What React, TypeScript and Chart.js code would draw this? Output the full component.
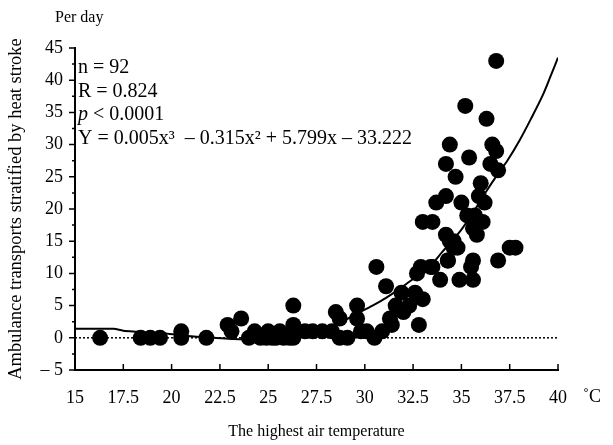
import React, { useEffect, useRef } from "react";
import { Chart, registerables } from "chart.js";

Chart.register(...registerables);

// Observed points (highest air temperature °C, ambulance transports per day)
const tempX: number[] = [
  16.3, 18.4, 18.9, 19.4, 20.5, 20.5, 21.8, 22.9, 23.1, 23.6,
  24.3, 24.6, 25.0, 25.2, 25.6, 25.8, 26.1, 26.3, 26.3, 26.3,
  26.3, 26.9, 27.3, 27.8, 28.5, 28.7, 28.7, 29.1, 29.6, 29.6,
  29.8, 30.1, 30.5, 30.6, 30.9, 31.1, 31.3, 31.6, 31.9, 32.0,
  32.6, 32.8, 33.0, 32.7, 32.9, 33.4, 33.5, 33.9, 34.3, 34.4,
  34.4, 35.4, 36.6, 36.8, 34.2, 36.5, 36.9, 34.7, 36.0, 35.9,
  36.2, 34.2, 33.7, 35.0, 35.3, 35.7, 36.1, 33.0, 33.5, 34.2,
  34.6, 34.8, 35.6, 35.8, 37.5, 37.8, 36.9, 34.3, 35.6, 35.5,
  34.9, 35.6, 36.8, 35.2, 36.3, 34.6, 24.0, 25.4, 24.9, 31.4,
  32.3, 28.3,
];
const transports: number[] = [
  0, 0, 0, 0, 1, 0, 0, 2, 1, 3,
  1, 0, 1, 0, 1, 0, 0, 5, 2, 1,
  0, 1, 1, 1, 4, 3, 0, 0, 5, 3,
  1, 1, 0, 11, 1, 8, 3, 5, 7, 4,
  7, 2, 6, 10, 11, 11, 11, 9, 12, 15,
  30, 28, 30, 29, 27, 27, 26, 25, 24, 22,
  21, 22, 21, 21, 19, 19, 18, 18, 18, 16,
  15, 14, 17, 16, 14, 14, 12, 12, 12, 11,
  9, 9, 43, 36, 34, 14, 0, 0, 0, 2,
  5, 1,
];

// Fitted curve as drawn in the figure
const curveX: number[] = [
  15, 16, 17, 17.5, 18.2, 19, 19.9, 20.6, 21.3, 22.2, 23.2, 24.3, 25.2, 26,
  27, 27.8, 28.4, 29, 29.7, 30.4, 31.1, 31.7, 32.3, 32.8, 33.4, 34, 34.5,
  35, 35.6, 36.3, 36.9, 37.4, 38, 38.6, 39.2, 39.6, 40,
];
const curveY: number[] = [
  1.4, 1.4, 1.4, 1.1, 0.95, 0.8, 0.6, 0.35, 0.15, 0, -0.2, -0.2, 0, 0.3,
  0.7, 1.2, 1.9, 2.8, 3.9, 5.0, 6.2, 7.4, 8.7, 9.8, 11.2, 13.3, 15.0,
  16.8, 19.4, 22.8, 25.5, 27.6, 30.6, 34, 37.6, 40.5, 43.5,
];

const xTicks: number[] = [15, 17.5, 20, 22.5, 25, 27.5, 30, 32.5, 35, 37.5, 40];
const yTicks: number[] = [-5, 0, 5, 10, 15, 20, 25, 30, 35, 40, 45];
const yMinorTicks: number[] = [-2.5, 2.5, 7.5, 12.5, 17.5, 22.5, 27.5, 32.5, 37.5, 42.5];

const statLines: string[] = ["n = 92", "R = 0.824", "< 0.0001", "Y = 0.005x³  – 0.315x² + 5.799x – 33.222"];
const yTitle = "Ambulance transports stratified by heat stroke";
const xTitle = "The highest air temperature";
const unitLabel = "˚C";
const perDay = "Per day";

const SERIF = "'Liberation Serif', 'Times New Roman', serif";

const axesPlugin = {
  id: "customAxes",
  afterDraw(chart: any) {
    const ctx = chart.ctx as CanvasRenderingContext2D;
    const xs = chart.scales.x;
    const ys = chart.scales.y;
    const left = xs.getPixelForValue(15);
    const right = xs.getPixelForValue(40);
    const top = ys.getPixelForValue(45);
    const bottom = ys.getPixelForValue(-5);
    ctx.save();
    ctx.strokeStyle = "#000";
    ctx.fillStyle = "#000";
    ctx.lineWidth = 2;
    ctx.beginPath();
    ctx.moveTo(left, top - 1);
    ctx.lineTo(left, bottom);
    ctx.lineTo(right + 1, bottom);
    ctx.stroke();
    ctx.lineWidth = 1.5;
    ctx.beginPath();
    for (const v of yTicks) {
      const y = ys.getPixelForValue(v);
      ctx.moveTo(left - 6, y);
      ctx.lineTo(left, y);
    }
    for (const v of yMinorTicks) {
      const y = ys.getPixelForValue(v);
      ctx.moveTo(left - 3, y);
      ctx.lineTo(left, y);
    }
    for (const v of xTicks) {
      const x = xs.getPixelForValue(v);
      ctx.moveTo(x, bottom);
      ctx.lineTo(x, bottom - 6);
    }
    ctx.stroke();

    ctx.font = `18px ${SERIF}`;
    ctx.textAlign = "right";
    ctx.textBaseline = "middle";
    for (const v of yTicks) {
      const y = ys.getPixelForValue(v);
      const txt = v < 0 ? `– ${Math.abs(v)}` : String(v);
      ctx.fillText(txt, left - 12, y);
    }
    ctx.textAlign = "center";
    for (const v of xTicks) {
      const x = xs.getPixelForValue(v);
      ctx.fillText(String(v), x, bottom + 28);
    }
    ctx.textAlign = "left";
    ctx.fillText(unitLabel, right + 25, bottom + 27);

    ctx.font = `16px ${SERIF}`;
    ctx.textAlign = "left";
    ctx.fillText(perDay, 55, 18);
    ctx.textAlign = "center";
    ctx.fillText(xTitle, (left + right) / 2, 432);
    ctx.save();
    ctx.font = `18.5px ${SERIF}`;
    ctx.translate(16, (top + bottom) / 2);
    ctx.rotate(-Math.PI / 2);
    ctx.fillText(yTitle, 0, 0);
    ctx.restore();

    // statistics text
    ctx.font = `20px ${SERIF}`;
    ctx.textAlign = "left";
    const tx = left + 3;
    const lineYs = [68, 92, 115, 139];
    ctx.fillText(statLines[0], tx, lineYs[0]);
    ctx.fillText(statLines[1], tx, lineYs[1]);
    ctx.font = `italic 20px ${SERIF}`;
    ctx.fillText("p", tx, lineYs[2]);
    const pw = ctx.measureText("p ").width;
    ctx.font = `20px ${SERIF}`;
    ctx.fillText(statLines[2], tx + pw, lineYs[2]);
    ctx.fillText(statLines[3], tx, lineYs[3]);
    ctx.restore();
  },
};

export default function App() {
  const ref = useRef<HTMLCanvasElement | null>(null);
  useEffect(() => {
    if (!ref.current) return;
    const points = tempX.map((x, i) => ({ x, y: transports[i] }));
    const curve = curveX.map((x, i) => ({ x, y: curveY[i] }));
    const chart = new Chart(ref.current, {
      type: "scatter",
      data: {
        datasets: [
          {
            type: "line",
            data: [{ x: 15, y: 0 }, { x: 40, y: 0 }],
            borderColor: "#000",
            borderWidth: 1.5,
            borderDash: [2, 2],
            pointRadius: 0,
            fill: false,
          } as any,
          {
            type: "line",
            data: curve,
            borderColor: "#000",
            borderWidth: 2,
            pointRadius: 0,
            tension: 0.3,
            fill: false,
          } as any,
          {
            type: "scatter",
            data: points,
            backgroundColor: "#000",
            borderColor: "#000",
            pointRadius: 8,
            pointBorderWidth: 0,
          } as any,
        ],
      },
      options: {
        responsive: false,
        animation: false,
        layout: { padding: { left: 75, top: 48, right: 55, bottom: 75 } },
        plugins: { legend: { display: false }, tooltip: { enabled: false } },
        scales: {
          x: { type: "linear", min: 15, max: 40, display: false },
          y: { type: "linear", min: -5, max: 45, display: false },
        },
      },
      plugins: [axesPlugin],
    });
    return () => chart.destroy();
  }, []);
  return (
    <div style={{ position: "fixed", left: 0, top: 0, width: 613, height: 445, background: "#fff" }}>
      <canvas ref={ref} width={613} height={445} />
    </div>
  );
}
